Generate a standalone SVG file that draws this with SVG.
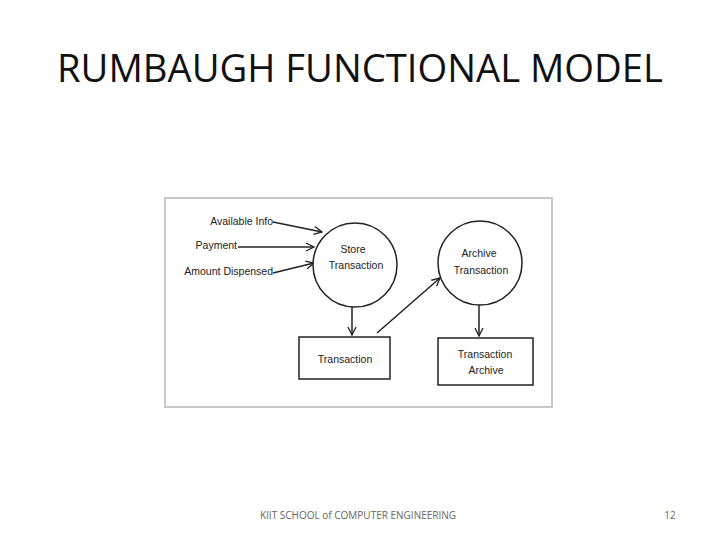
<svg xmlns="http://www.w3.org/2000/svg" width="720" height="540" viewBox="0 0 720 540">
<style>
.t{font-family:"Liberation Sans",Arial,sans-serif;font-size:10.5px;fill:#222}
.l{stroke:#222;stroke-width:1.5;fill:none}
.s{stroke:#222;stroke-width:1.5;fill:#fff}
</style>
<defs><marker id="a" markerWidth="10" markerHeight="10" refX="9" refY="5" orient="auto" markerUnits="userSpaceOnUse"><path d="M1,1 L9,5 L1,9" fill="none" stroke="#222" stroke-width="1.3"/></marker></defs>
<rect width="720" height="540" fill="#fff"/>
<text x="360" y="82" text-anchor="middle" font-family="'Open Sans',sans-serif" font-size="38" fill="#111" textLength="606" lengthAdjust="spacingAndGlyphs">RUMBAUGH FUNCTIONAL MODEL</text>
<rect x="165" y="198" width="387" height="209" fill="#fff" stroke="#c8c8c8" stroke-width="2"/>
<g id="connectors">
<line class="l" x1="273" y1="222" x2="322" y2="232" marker-end="url(#a)"/>
<line class="l" x1="238" y1="247" x2="314" y2="247" marker-end="url(#a)"/>
<line class="l" x1="273" y1="273" x2="314" y2="263" marker-end="url(#a)"/>
<line class="l" x1="352" y1="296" x2="352" y2="335" marker-end="url(#a)"/>
<line class="l" x1="377" y1="333" x2="440" y2="278" marker-end="url(#a)"/>
<line class="l" x1="479" y1="304" x2="479" y2="336" marker-end="url(#a)"/>
</g>
<g id="available"><text class="t" x="273" y="225" text-anchor="end">Available Info</text></g>
<g id="payment"><text class="t" x="237" y="249" text-anchor="end">Payment</text></g>
<g id="amount"><text class="t" x="273" y="275" text-anchor="end">Amount Dispensed</text></g>
<g id="store"><circle class="s" cx="355" cy="265" r="42"/><text class="t" x="353" y="253" text-anchor="middle">Store</text><text class="t" x="356" y="269" text-anchor="middle">Transaction</text></g>
<g id="archive"><circle class="s" cx="480" cy="263" r="42"/><text class="t" x="479" y="257" text-anchor="middle">Archive</text><text class="t" x="481" y="274" text-anchor="middle">Transaction</text></g>
<g id="transaction"><rect class="s" x="299" y="337" width="91" height="42"/><text class="t" x="345" y="363" text-anchor="middle">Transaction</text></g>
<g id="tarchive"><rect class="s" x="438" y="338" width="95" height="47"/><text class="t" x="485" y="358" text-anchor="middle">Transaction</text><text class="t" x="486" y="374" text-anchor="middle">Archive</text></g>
<text x="358" y="519" text-anchor="middle" font-family="'Open Sans',sans-serif" font-size="10" fill="#666">KIIT SCHOOL of COMPUTER ENGINEERING</text>
<text x="670" y="519" text-anchor="middle" font-family="'Open Sans',sans-serif" font-size="10" fill="#666">12</text>
</svg>
